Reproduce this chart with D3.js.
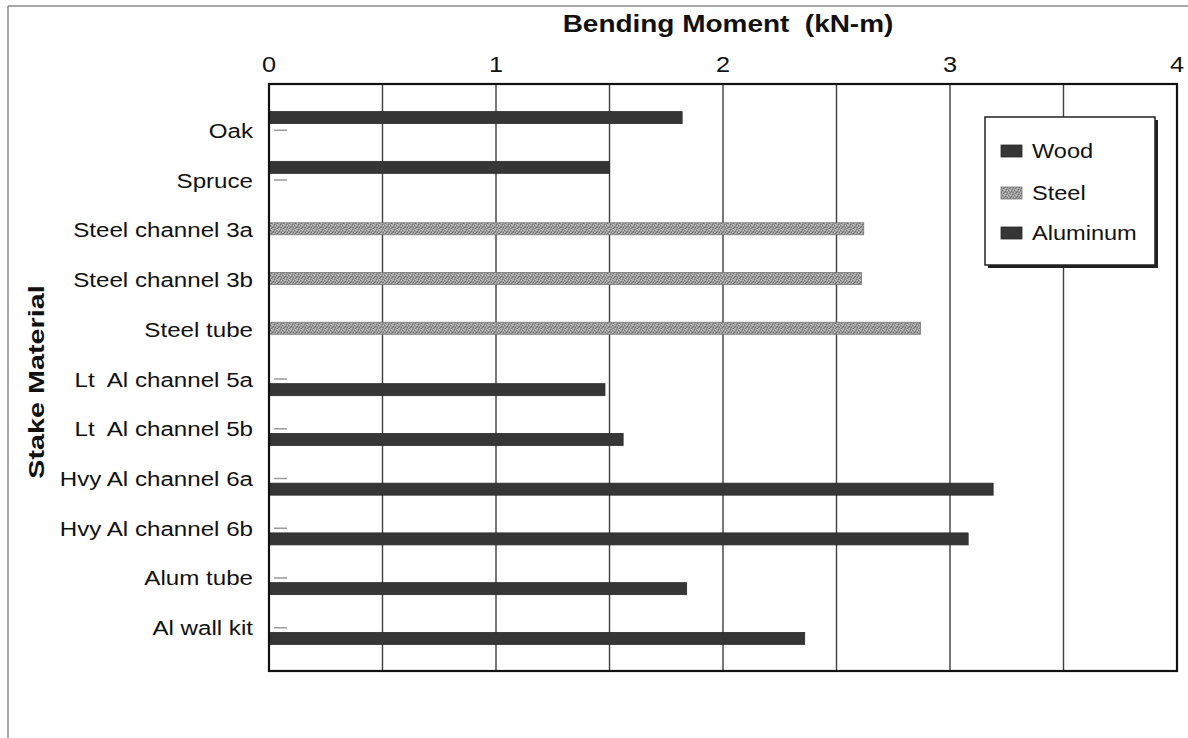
<!DOCTYPE html>
<html>
<head>
<meta charset="utf-8">
<script src="https://cdn.jsdelivr.net/npm/d3@7"></script>
<style>
  html, body { margin: 0; padding: 0; background: #fff; }
  svg { display: block; }
  text { font-family: "Liberation Sans", Arial, Helvetica, sans-serif; fill: #111; }
</style>
</head>
<body>
<svg id="chart" width="1188" height="738"></svg>
<script>
// Stake materials, top to bottom
const categories = [
  "Oak", "Spruce", "Steel channel 3a", "Steel channel 3b", "Steel tube",
  "Lt  Al channel 5a", "Lt  Al channel 5b", "Hvy Al channel 6a",
  "Hvy Al channel 6b", "Alum tube", "Al wall kit"
];
const seriesNames = ["Wood", "Steel", "Aluminum"];

// Bending moment at failure, kN-m (0 = material not in this group)
const woodValues     = [1.82, 1.50, 0, 0, 0, 0, 0, 0, 0, 0, 0];
const steelValues    = [0, 0, 2.62, 2.61, 2.87, 0, 0, 0, 0, 0, 0];
const aluminumValues = [0, 0, 0, 0, 0, 1.48, 1.56, 3.19, 3.08, 1.84, 2.36];

const xTickValues = [0, 1, 2, 3, 4];
const xGridValues = [0.5, 1, 1.5, 2, 2.5, 3, 3.5];

const seriesValues = [woodValues, steelValues, aluminumValues];

const svg = d3.select("#chart");
const plot = { left: 269, right: 1177, top: 84, bottom: 671 };

// Glyph widening used by the print font
const SX = 1.15;

const x = d3.scaleLinear().domain([0, 4]).range([plot.left, plot.right]);
const y = d3.scaleBand().domain(categories)
  .range([plot.top + 2, plot.bottom + 1]).paddingInner(0).paddingOuter(0.39);
const ySeries = d3.scaleBand().domain(seriesNames).range([-18.5, 16.5]);

// Speckled fill for the steel series
const defs = svg.append("defs");
const pat = defs.append("pattern").attr("id", "steelFill")
  .attr("patternUnits", "userSpaceOnUse").attr("width", 6).attr("height", 5);
pat.append("rect").attr("width", 6).attr("height", 5).attr("fill", "#9d9d9d");
const speckDark = [[0,0],[3,1],[1,3],[4,4],[5,2],[2,2]];
const speckLight = [[2,0],[5,0],[0,2],[3,3],[1,4]];
speckDark.forEach(([a,b]) => pat.append("rect").attr("x", a).attr("y", b).attr("width", 1).attr("height", 1).attr("fill", "#6e6e6e"));
speckLight.forEach(([a,b]) => pat.append("rect").attr("x", a).attr("y", b).attr("width", 1).attr("height", 1).attr("fill", "#c8c8c8"));

const seriesFill = { Wood: "#363636", Steel: "url(#steelFill)", Aluminum: "#363636" };
const seriesStroke = { Wood: "#2a2a2a", Steel: "#767676", Aluminum: "#2a2a2a" };

// Page frame (top and left edges)
svg.append("line").attr("x1", 8).attr("y1", 6).attr("x2", 1188).attr("y2", 6)
  .attr("stroke", "#8a8a8a").attr("stroke-width", 1.5);
svg.append("line").attr("x1", 8).attr("y1", 6).attr("x2", 8).attr("y2", 738)
  .attr("stroke", "#8a8a8a").attr("stroke-width", 1.5);

// Vertical gridlines
svg.append("g").selectAll("line").data(xGridValues).join("line")
  .attr("x1", d => x(d)).attr("x2", d => x(d))
  .attr("y1", plot.top).attr("y2", plot.bottom)
  .attr("stroke", "#3e3e3e").attr("stroke-width", 1.4);

// Inner category ticks
svg.append("g").selectAll("line").data(categories).join("line")
  .attr("x1", plot.left + 5).attr("x2", plot.left + 18)
  .attr("y1", d => y(d) + y.bandwidth() / 2).attr("y2", d => y(d) + y.bandwidth() / 2)
  .attr("stroke", "#9a9a9a").attr("stroke-width", 1.5);

// Bars
const barH = 12;
const barData = [];
seriesNames.forEach((s, si) => {
  categories.forEach((c, ci) => {
    const v = seriesValues[si][ci];
    if (v > 0) barData.push({ series: s, category: c, value: v });
  });
});
svg.append("g").selectAll("rect").data(barData).join("rect")
  .attr("x", x(0))
  .attr("y", d => y(d.category) + y.bandwidth() / 2 + ySeries(d.series) + (ySeries.bandwidth() - barH) / 2)
  .attr("width", d => x(d.value) - x(0))
  .attr("height", barH)
  .attr("fill", d => seriesFill[d.series])
  .attr("stroke", d => seriesStroke[d.series]).attr("stroke-width", 0.8);

// Plot border
svg.append("rect")
  .attr("x", plot.left).attr("y", plot.top)
  .attr("width", plot.right - plot.left).attr("height", plot.bottom - plot.top)
  .attr("fill", "none").attr("stroke", "#111").attr("stroke-width", 2.2);

// Top axis labels
svg.append("g").selectAll("text").data(xTickValues).join("text")
  .attr("transform", d => `translate(${x(d)},72) scale(${SX},1)`)
  .attr("text-anchor", "middle").attr("font-size", 22)
  .text(d => d);

// Category labels
svg.append("g").selectAll("text").data(categories).join("text")
  .attr("transform", d => `translate(253,${y(d) + y.bandwidth() / 2 + 7.5}) scale(${SX},1)`)
  .attr("text-anchor", "end").attr("font-size", 21)
  .style("white-space", "pre")
  .text(d => d);

// Axis titles
svg.append("text")
  .attr("transform", `translate(728,32) scale(1.19,1)`)
  .attr("text-anchor", "middle").attr("font-size", 23.5).attr("font-weight", "bold")
  .style("white-space", "pre")
  .text("Bending Moment  (kN-m)");
svg.append("text")
  .attr("transform", `translate(44,382) rotate(-90) scale(1.28,1)`)
  .attr("text-anchor", "middle").attr("font-size", 22.5).attr("font-weight", "bold")
  .text("Stake Material");

// Legend
const lg = { x: 985, y: 117, w: 170, h: 148 };
const legend = svg.append("g");
legend.append("rect").attr("x", lg.x + 3).attr("y", lg.y + 3)
  .attr("width", lg.w).attr("height", lg.h).attr("fill", "#222");
legend.append("rect").attr("x", lg.x).attr("y", lg.y)
  .attr("width", lg.w).attr("height", lg.h)
  .attr("fill", "#fff").attr("stroke", "#222").attr("stroke-width", 1.5);
const legendRowY = [158, 200, 240];
const items = legend.selectAll("g.item").data(seriesNames).join("g").attr("class", "item");
items.append("rect")
  .attr("x", 1001).attr("y", (d, i) => legendRowY[i] - 13)
  .attr("width", 21).attr("height", 12)
  .attr("fill", d => seriesFill[d]).attr("stroke", d => seriesStroke[d]).attr("stroke-width", 0.8);
items.append("text")
  .attr("transform", (d, i) => `translate(1032,${legendRowY[i]}) scale(${SX},1)`)
  .attr("font-size", 20.5)
  .text(d => d);
</script>
</body>
</html>
